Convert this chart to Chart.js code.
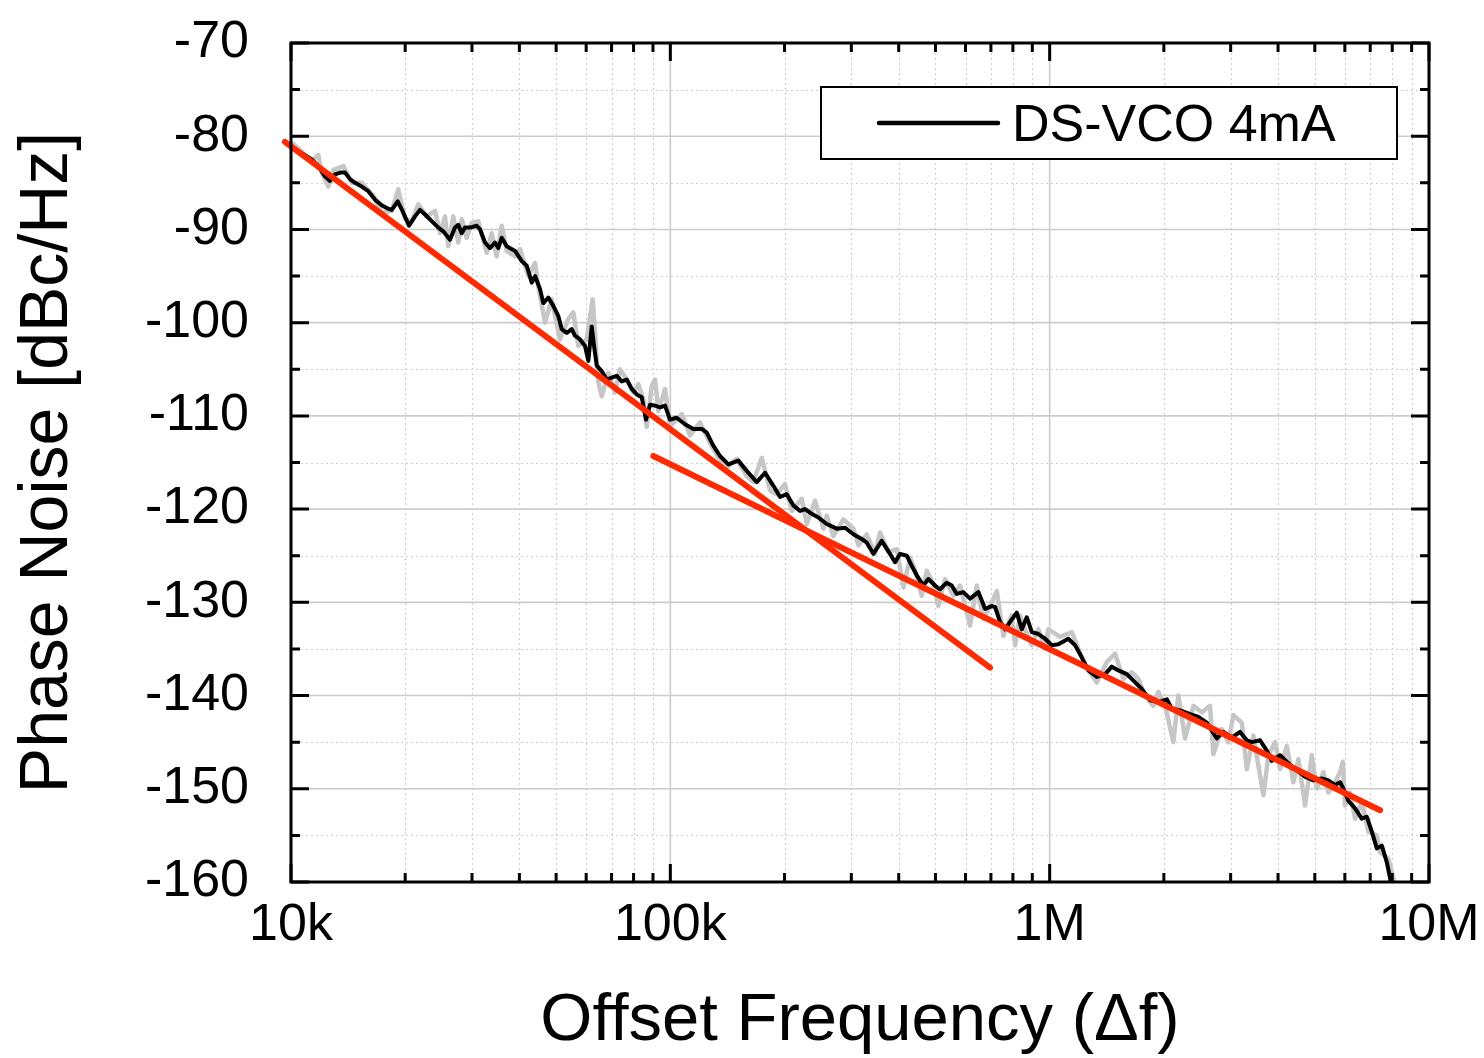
<!DOCTYPE html>
<html>
<head>
<meta charset="utf-8">
<script src="https://cdn.jsdelivr.net/npm/chart.js@4.4.1/dist/chart.umd.min.js"></script>
<style>
  html, body { margin: 0; padding: 0; background: #ffffff; }
  #wrap { width: 1484px; height: 1058px; }
</style>
</head>
<body>
<div id="wrap"><canvas id="c" width="1484" height="1058"></canvas></div>
<script>
// ---------- data ----------
const seriesLabel = 'DS-VCO 4mA';

const blackFreq = [
  10000, 10750, 11340, 11800, 12290, 12670, 13060, 13460, 13880, 14310,
  14750, 15360, 15990, 16650, 17340, 17880, 18430, 19110, 19770, 20470,
  21230, 21880, 22560, 23490, 24450, 25200, 26250, 27060, 27610, 28180,
  28750, 29640, 30870, 31500, 32470, 33460, 34500, 35200, 35930, 37040,
  38960, 40580, 41830, 43120, 43990, 45340, 46260, 47680, 49150, 50670,
  51730, 53330, 54950, 56070, 57800, 59580, 60790, 62060, 62930, 63970,
  65940, 67970, 70070, 72230, 74450, 76740, 79110, 81550, 84060, 86280,
  88410, 91130, 93930, 96830, 99820, 103900, 109300, 115000, 121000, 124700,
  129800, 135200, 142200, 151100, 159000, 169000, 177700, 186900, 194700, 202700,
  211000, 219800, 226500, 235900, 245600, 258400, 274600, 288800, 303800, 319600,
  329500, 342900, 360800, 379500, 391200, 403300, 420100, 433000, 446400, 464600,
  478900, 498700, 514000, 535400, 551900, 568900, 592200, 616700, 648600, 675600,
  703600, 717800, 740000, 762800, 786400, 818900, 844200, 870200, 897200, 933900,
  972500, 1013000, 1054000, 1120000, 1167000, 1215000, 1265000, 1331000, 1400000, 1458000,
  1518000, 1597000, 1663000, 1749000, 1840000, 1934000, 2036000, 2099000, 2207000, 2346000,
  2466000, 2595000, 2757000, 2871000, 3021000, 3177000, 3309000, 3411000, 3587000, 3736000,
  3851000, 4050000, 4218000, 4436000, 4713000, 4957000, 5216000, 5429000, 5654000, 5829000,
  5947000, 6130000, 6384000, 6649000, 6855000, 7067000, 7285000, 7510000, 7742000, 7899000,
  7950000
];
const blackDb = [
  -81.1, -81.9, -82.5, -83.2, -84.3, -84.8, -84.1, -83.9, -83.9, -84.6,
  -85.0, -85.4, -85.9, -86.8, -87.4, -87.7, -87.9, -87.0, -88.2, -89.6,
  -88.6, -87.9, -88.4, -89.1, -89.8, -90.2, -91.1, -89.8, -89.5, -90.4,
  -89.8, -89.8, -89.6, -90.0, -91.4, -92.0, -91.4, -92.0, -90.9, -91.8,
  -92.3, -93.4, -93.9, -95.7, -95.0, -96.4, -97.9, -97.3, -98.2, -99.3,
  -100.7, -101.1, -100.7, -101.4, -101.8, -102.5, -104.1, -100.4, -102.5, -104.6,
  -105.2, -106.1, -105.9, -105.7, -106.3, -106.1, -107.1, -107.7, -108.0, -110.4,
  -108.8, -108.9, -109.1, -108.9, -110.4, -110.2, -110.9, -111.4, -111.4, -111.8,
  -113.2, -114.3, -115.2, -114.8, -115.9, -117.1, -116.1, -117.5, -118.7, -118.4,
  -119.6, -120.2, -120.0, -120.5, -120.9, -121.6, -122.1, -122.0, -122.7, -123.2,
  -123.6, -124.8, -123.4, -124.8, -125.7, -124.8, -125.0, -126.1, -127.1, -128.2,
  -127.5, -128.2, -128.6, -127.9, -128.2, -129.1, -128.9, -129.6, -128.9, -130.7,
  -130.4, -130.5, -132.1, -132.9, -132.1, -131.1, -132.9, -131.6, -133.2, -133.4,
  -133.9, -134.6, -134.5, -133.9, -134.6, -135.9, -137.3, -138.0, -137.7, -136.9,
  -137.3, -137.7, -138.4, -139.3, -140.5, -140.7, -140.4, -141.4, -141.6, -142.0,
  -142.3, -142.9, -144.6, -143.9, -144.5, -143.9, -144.8, -145.0, -144.8, -145.9,
  -147.0, -146.4, -147.1, -147.9, -148.7, -149.1, -148.9, -149.1, -149.6, -149.3,
  -150.0, -151.3, -152.1, -153.2, -153.0, -154.6, -156.4, -156.1, -157.9, -159.6,
  -160.5
];

const grayFreq = [
  10040, 10450, 10890, 11340, 11800, 12050, 12540, 12930, 13740, 14450,
  15360, 16480, 17340, 18430, 19180, 19980, 20810, 21660, 22790, 23970,
  24710, 25470, 25980, 26780, 27610, 28180, 29050, 29950, 31170, 32810,
  33810, 34850, 35930, 37040, 38960, 40160, 42230, 43990, 44870, 46730,
  48670, 51200, 53840, 55500, 57200, 60200, 62430, 64600, 65940, 68630,
  71480, 73660, 76740, 79880, 82340, 84880, 86660, 89300, 91130, 92980,
  96830, 99820, 107200, 112700, 119700, 127200, 135200, 142200, 149600, 158600,
  165500, 174200, 183200, 190800, 200600, 209000, 222000, 228900, 240700, 253200,
  258400, 269000, 285900, 303800, 313100, 329500, 346500, 357200, 375600, 395400,
  411600, 428600, 441800, 460000, 474200, 493600, 508800, 529900, 557300, 580600,
  616700, 642400, 668800, 696400, 725400, 755100, 794500, 810600, 835600, 861400,
  897200, 933900, 972500, 992200, 1065000, 1144000, 1240000, 1331000, 1415000, 1487000,
  1564000, 1646000, 1713000, 1784000, 1877000, 1934000, 2015000, 2119000, 2184000, 2275000,
  2393000, 2518000, 2647000, 2701000, 2843000, 2959000, 3050000, 3209000, 3309000, 3443000,
  3660000, 3773000, 3929000, 4050000, 4218000, 4390000, 4525000, 4713000, 4909000, 5060000,
  5267000, 5429000, 5654000, 5829000, 5925000, 6008000, 6194000, 6384000, 6649000, 6922000,
  7285000, 7432000, 7817000, 8056000, 8140000
];
const grayDb = [
  -80.7, -81.3, -82.0, -82.7, -82.0, -83.9, -85.4, -83.6, -83.2, -85.0,
  -85.0, -86.4, -88.2, -88.0, -85.7, -88.9, -89.1, -87.3, -88.6, -88.0,
  -90.4, -88.6, -91.8, -88.6, -91.4, -88.9, -90.9, -89.3, -89.1, -92.5,
  -90.4, -92.9, -89.6, -92.3, -92.9, -92.1, -95.0, -93.6, -96.1, -100.0,
  -97.5, -101.8, -99.6, -98.9, -102.5, -101.8, -97.5, -106.4, -107.9, -105.4,
  -107.5, -105.0, -106.1, -107.5, -106.6, -108.2, -111.2, -106.8, -106.1, -109.5,
  -107.1, -111.1, -109.8, -112.1, -110.7, -112.9, -114.8, -115.4, -114.6, -116.4,
  -117.1, -114.5, -118.0, -118.4, -117.3, -120.2, -118.9, -121.6, -119.1, -122.1,
  -120.7, -122.9, -121.1, -122.1, -123.9, -122.7, -124.8, -122.5, -124.6, -124.3,
  -128.4, -125.2, -126.6, -129.3, -126.6, -128.0, -130.4, -127.5, -129.3, -128.2,
  -132.5, -128.2, -131.8, -130.4, -128.8, -133.6, -131.4, -134.6, -131.4, -132.9,
  -134.6, -132.9, -135.0, -132.9, -133.7, -133.2, -136.8, -138.6, -136.4, -135.5,
  -138.2, -137.5, -138.2, -140.0, -141.1, -139.6, -141.1, -145.0, -140.0, -144.6,
  -141.1, -141.8, -141.1, -146.3, -143.6, -145.0, -142.1, -142.9, -147.9, -144.3,
  -150.7, -146.4, -145.0, -147.9, -145.4, -149.3, -146.8, -151.8, -146.4, -150.0,
  -148.2, -150.4, -149.3, -148.2, -147.1, -151.8, -150.4, -153.2, -151.4, -154.6,
  -155.0, -156.8, -157.5, -159.6, -160.5
];

// red fit lines (end points)
const fit1Freq = [9640, 696400];
const fit1Db = [-80.6, -137.0];
const fit2Freq = [90190, 7432000];
const fit2Db = [-114.3, -152.3];

// axes
const xTickValues = [1e4, 1e5, 1e6, 1e7];
const xTickLabels = ['10k', '100k', '1M', '10M'];
const yTickValues = [-160, -150, -140, -130, -120, -110, -100, -90, -80, -70];

// ---------- helpers ----------
const pts = (xs, ys) => xs.map((v, i) => ({ x: v, y: ys[i] }));
const FONT = "'Liberation Sans', Arial, Helvetica, sans-serif";

const framePlugin = {
  id: 'framePlugin',
  beforeDatasetsDraw(chart) {
    const { ctx, chartArea: a, scales: { x, y } } = chart;
    ctx.save();
    // minor grid (dotted)
    ctx.strokeStyle = '#cfcfcf';
    ctx.lineWidth = 1.2;
    ctx.setLineDash([2, 3]);
    ctx.beginPath();
    for (let i = 0; i < xTickValues.length - 1; i++) {
      for (let m = 2; m <= 9; m++) {
        const px = Math.round(x.getPixelForValue(xTickValues[i] * m)) + 0.5;
        ctx.moveTo(px, a.top); ctx.lineTo(px, a.bottom);
      }
    }
    for (let i = 0; i < yTickValues.length - 1; i++) {
      const py = Math.round(y.getPixelForValue((yTickValues[i] + yTickValues[i + 1]) / 2)) + 0.5;
      ctx.moveTo(a.left, py); ctx.lineTo(a.right, py);
    }
    ctx.stroke();
    // major grid (solid)
    ctx.setLineDash([]);
    ctx.strokeStyle = '#cccccc';
    ctx.lineWidth = 1.6;
    ctx.beginPath();
    xTickValues.forEach(v => {
      const px = x.getPixelForValue(v);
      ctx.moveTo(px, a.top); ctx.lineTo(px, a.bottom);
    });
    yTickValues.forEach(v => {
      const py = y.getPixelForValue(v);
      ctx.moveTo(a.left, py); ctx.lineTo(a.right, py);
    });
    ctx.stroke();
    ctx.restore();
  },
  afterDatasetsDraw(chart) {
    const { ctx, chartArea: a, scales: { x, y } } = chart;
    ctx.save();
    ctx.strokeStyle = '#000';
    ctx.lineWidth = 3;
    ctx.setLineDash([]);
    ctx.beginPath();
    // x ticks (bottom & top, inward)
    for (let i = 0; i < xTickValues.length; i++) {
      const px = x.getPixelForValue(xTickValues[i]);
      ctx.moveTo(px, a.bottom); ctx.lineTo(px, a.bottom - 18);
      ctx.moveTo(px, a.top); ctx.lineTo(px, a.top + 18);
      if (i < xTickValues.length - 1) {
        for (let m = 2; m <= 9; m++) {
          const qx = x.getPixelForValue(xTickValues[i] * m);
          ctx.moveTo(qx, a.bottom); ctx.lineTo(qx, a.bottom - 9);
          ctx.moveTo(qx, a.top); ctx.lineTo(qx, a.top + 9);
        }
      }
    }
    // y ticks (left & right, inward)
    for (let i = 0; i < yTickValues.length; i++) {
      const py = y.getPixelForValue(yTickValues[i]);
      ctx.moveTo(a.left, py); ctx.lineTo(a.left + 18, py);
      ctx.moveTo(a.right, py); ctx.lineTo(a.right - 18, py);
      if (i < yTickValues.length - 1) {
        const qy = y.getPixelForValue((yTickValues[i] + yTickValues[i + 1]) / 2);
        ctx.moveTo(a.left, qy); ctx.lineTo(a.left + 9, qy);
        ctx.moveTo(a.right, qy); ctx.lineTo(a.right - 9, qy);
      }
    }
    ctx.stroke();
    // frame
    ctx.lineWidth = 3;
    ctx.strokeRect(a.left, a.top, a.right - a.left, a.bottom - a.top);

    // legend box
    const bx = 821, by = 87, bw = 576, bh = 72;
    ctx.fillStyle = '#fff';
    ctx.fillRect(bx, by, bw, bh);
    ctx.lineWidth = 2;
    ctx.strokeRect(bx, by, bw, bh);
    ctx.lineWidth = 4.5;
    ctx.lineCap = 'round';
    ctx.beginPath();
    ctx.moveTo(879, 123); ctx.lineTo(998, 123);
    ctx.stroke();
    ctx.fillStyle = '#000';
    ctx.font = '52px ' + FONT;
    ctx.textBaseline = 'alphabetic';
    ctx.textAlign = 'left';
    ctx.fillText(chart.data.datasets[1].label, 1012, 141);
    ctx.restore();
  }
};

new Chart(document.getElementById('c'), {
  type: 'line',
  data: {
    datasets: [
      {
        label: 'fit1', data: pts(fit1Freq, fit1Db),
        borderColor: '#ff2a00', borderWidth: 6, borderCapStyle: 'round',
        pointRadius: 0, tension: 0, clip: false, order: 0
      },
      {
        label: seriesLabel, data: pts(blackFreq, blackDb),
        borderColor: '#000000', borderWidth: 4, borderJoinStyle: 'round',
        pointRadius: 0, tension: 0, order: 1
      },
      {
        label: 'raw', data: pts(grayFreq, grayDb),
        borderColor: '#c6c6c6', borderWidth: 4.5, borderJoinStyle: 'round',
        pointRadius: 0, tension: 0, order: 2
      },
      {
        label: 'fit2', data: pts(fit2Freq, fit2Db),
        borderColor: '#ff2a00', borderWidth: 6, borderCapStyle: 'round',
        pointRadius: 0, tension: 0, clip: false, order: 0
      }
    ]
  },
  options: {
    responsive: false,
    animation: false,
    devicePixelRatio: 1,
    layout: { padding: { top: 43, right: 55, left: 0, bottom: 0 } },
    plugins: { legend: { display: false }, tooltip: { enabled: false } },
    scales: {
      x: {
        type: 'logarithmic',
        min: 1e4, max: 1e7,
        afterBuildTicks: s => { s.ticks = xTickValues.map(v => ({ value: v })); },
        afterFit: s => { s.height = 176; s.paddingLeft = 0; s.paddingRight = 0; },
        grid: { display: false, drawTicks: false, tickLength: 0 },
        border: { display: false },
        ticks: {
          autoSkip: false, maxRotation: 0, minRotation: 0, padding: 12,
          color: '#000', font: { family: FONT, size: 52 },
          callback: v => { const i = xTickValues.indexOf(v); return i >= 0 ? xTickLabels[i] : ''; }
        },
        title: {
          display: true, text: 'Offset Frequency (\u0394f)', color: '#000',
          font: { family: FONT, size: 67 }, padding: { top: 0, bottom: -4 }
        }
      },
      y: {
        type: 'linear',
        min: -160, max: -70,
        afterBuildTicks: s => { s.ticks = yTickValues.map(v => ({ value: v })); },
        afterFit: s => { s.width = 291; s.paddingTop = 0; s.paddingBottom = 0; },
        grid: { display: false, drawTicks: false, tickLength: 0 },
        border: { display: false },
        ticks: {
          padding: 42, color: '#000', font: { family: FONT, size: 52 },
          callback: v => String(v)
        },
        title: {
          display: true, text: 'Phase Noise [dBc/Hz]', color: '#000',
          font: { family: FONT, size: 68 }, padding: { top: 7, bottom: 6 }
        }
      }
    }
  },
  plugins: [framePlugin]
});
</script>
</body>
</html>
